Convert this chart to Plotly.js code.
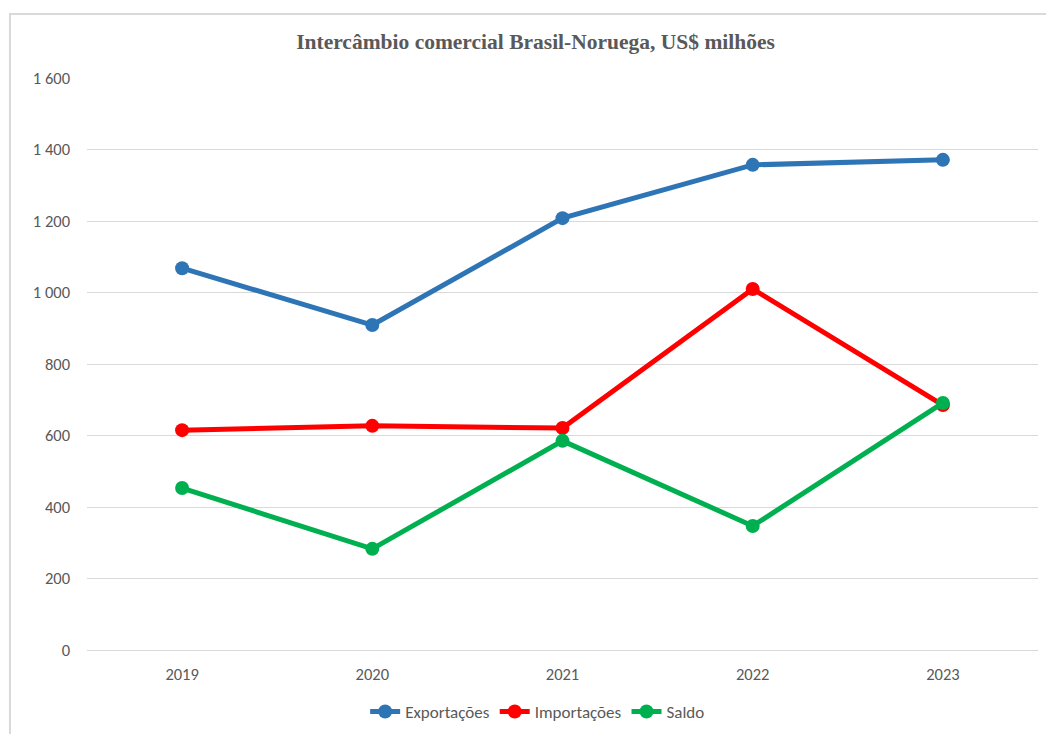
<!DOCTYPE html>
<html>
<head>
<meta charset="utf-8">
<script src="https://cdn.plot.ly/plotly-3.0.1.min.js"></script>
<style>html,body{margin:0;padding:0;background:#fff;}#chart{width:1046px;height:734px;}</style>
</head>
<body>
<div id="chart"></div>
<script>
const years = ['2019', '2020', '2021', '2022', '2023'];
const exportacoes = [1068, 909, 1208, 1357, 1371];
const importacoes = [615, 627, 621, 1010, 685];
const saldo = [453, 283, 585, 347, 691];

const fontMain = 'Carlito, Calibri, "Liberation Sans", Arial, sans-serif';
function mk(name, y, color) {
  return {
    type: 'scatter', mode: 'lines+markers', name: name, x: years, y: y,
    line: {color: color, width: 5},
    marker: {color: color, size: 14, symbol: 'circle'}
  };
}
const data = [
  mk('Exportações', exportacoes, '#2E75B6'),
  mk('Importações', importacoes, '#FF0000'),
  mk('Saldo', saldo, '#00B050')
];
const layout = {
  width: 1046, height: 734,
  margin: {l: 87, r: 8, t: 78, b: 84, autoexpand: false},
  paper_bgcolor: '#fff', plot_bgcolor: '#fff',
  separators: ', ',
  title: {
    text: '<b>Intercâmbio comercial Brasil-Noruega, US$ milhões</b>',
    font: {family: '"Liberation Serif", "Times New Roman", serif', size: 21.5, color: '#595959'},
    xref: 'container', x: 0.512, xanchor: 'center', yref: 'container', y: 0.943, yanchor: 'middle'
  },
  xaxis: {
    type: 'category', range: [-0.5, 4.5], showgrid: false, zeroline: false,
    showline: true, linecolor: '#d9d9d9', linewidth: 1,
    ticks: '', ticklabelstandoff: 9, automargin: false,
    tickfont: {family: fontMain, size: 16.5, color: '#595959'}
  },
  yaxis: {
    range: [0, 1600], dtick: 200, tickformat: ',d',
    showgrid: true, gridcolor: '#d9d9d9', gridwidth: 1,
    zeroline: false, showline: false, ticks: '', ticklabelstandoff: 16, automargin: false,
    tickfont: {family: fontMain, size: 16.5, color: '#595959'}
  },
  legend: {
    orientation: 'h', xref: 'container', x: 0.514, xanchor: 'center',
    yref: 'container', y: 0.03, yanchor: 'middle',
    font: {family: fontMain, size: 17, color: '#595959'},
    itemwidth: 30, tracegroupgap: 0
  },
  shapes: [{
    type: 'path', xref: 'paper', yref: 'paper',
    path: 'M -0.081,-0.2 L -0.081,1.1119 L 1.02,1.1119',
    line: {color: '#d9d9d9', width: 2}
  }]
};
Plotly.newPlot('chart', data, layout, {displayModeBar: false});
</script>
</body>
</html>
